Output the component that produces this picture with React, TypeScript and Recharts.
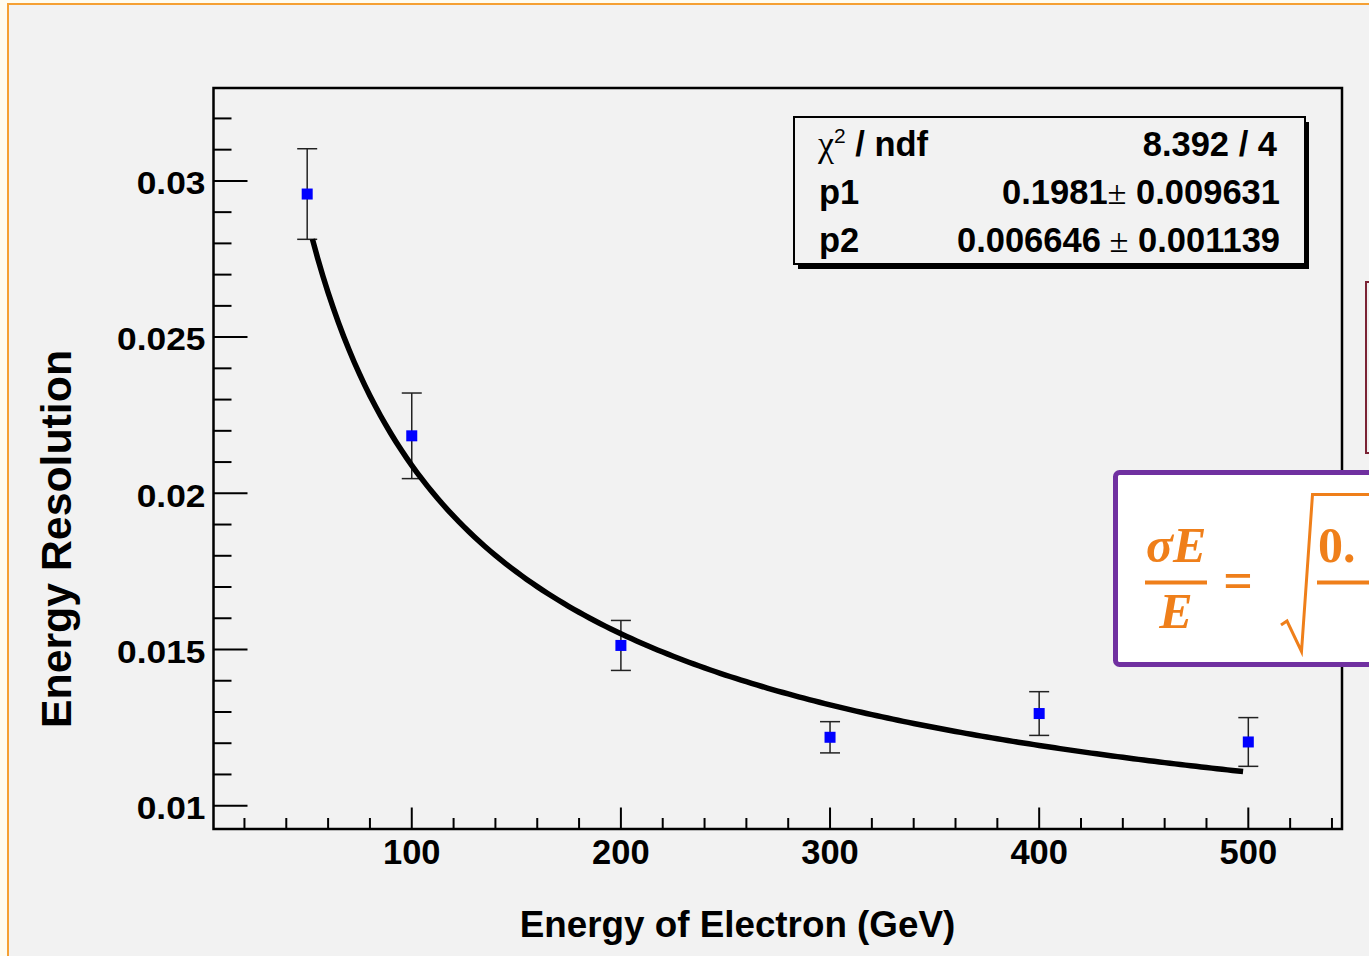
import React from 'react';
import {
  ComposedChart,
  XAxis,
  YAxis,
  Scatter,
  Line,
  ErrorBar,
  ReferenceLine,
  ReferenceArea,
} from 'recharts';

// Measured energy resolution for each beam energy (GeV)
const ENERGY = [50, 100, 200, 300, 400, 500];
const RESOLUTION = [0.02958, 0.02184, 0.01513, 0.01219, 0.01295, 0.01204];
const RES_ERROR = [0.00145, 0.00137, 0.0008, 0.0005, 0.0007, 0.00078];

// Fit parameters: sigma/E = sqrt(p1^2 / E + p2^2)
const FIT_P1 = 0.1981;
const FIT_P2 = 0.006646;
const FIT_FROM = 52.5;
const FIT_TO = 498;
const FIT_STEP = 2.5;

// Axis ticks
const X_TICKS = [100, 200, 300, 400, 500];
const X_MINOR = [20, 40, 60, 80, 120, 140, 160, 180, 220, 240, 260, 280, 320, 340, 360, 380, 420, 440, 460, 480, 520, 540];
const Y_TICKS = [0.01, 0.015, 0.02, 0.025, 0.03];
const Y_MINOR = [
  0.011, 0.012, 0.013, 0.014, 0.016, 0.017, 0.018, 0.019, 0.021, 0.022, 0.023, 0.024,
  0.026, 0.027, 0.028, 0.029, 0.031, 0.032,
];

// Stats box text
const STATS_ROWS = [
  { name: 'p1', value: '0.1981', error: '0.009631' },
  { name: 'p2', value: '0.006646', error: '0.001139' },
];
const CHI2_NDF = '8.392 / 4';

const X_MIN = 5.2;
const X_MAX = 544.8;
const Y_MIN = 0.009254;
const Y_MAX = 0.032974;

const CHART_W = 1369;
const CHART_H = 956;
const MARGIN = { top: 88, right: 27, bottom: 67, left: 13.5 };
const Y_AXIS_W = 200;
const X_AXIS_H = 60;
const PLOT_W = CHART_W - MARGIN.left - MARGIN.right - Y_AXIS_W;
const PLOT_H = CHART_H - MARGIN.top - MARGIN.bottom - X_AXIS_H;
const X_PER_PX = (X_MAX - X_MIN) / PLOT_W;
const Y_PER_PX = (Y_MAX - Y_MIN) / PLOT_H;

const SANS = '"Liberation Sans", Arial, Helvetica, sans-serif';
const SERIF = '"Liberation Serif", "Times New Roman", serif';
const ORANGE = '#ef7f1a';
const STATS_FS = 34.5;

const points = ENERGY.map((e, i) => ({ e, res: RESOLUTION[i], err: RES_ERROR[i] }));

const fitCurve: { e: number; fit: number }[] = [];
for (let e = FIT_FROM; e <= FIT_TO + 1e-9; e += FIT_STEP) {
  fitCurve.push({ e, fit: Math.sqrt((FIT_P1 * FIT_P1) / e + FIT_P2 * FIT_P2) });
}

const BlueSquare = (props: any) => {
  const { cx, cy } = props;
  if (cx == null || cy == null) return <g />;
  return <rect x={cx - 5.5} y={cy - 5.5} width={11} height={11} fill="#0000ff" />;
};

const YTick = (props: any) => {
  const { x, y, payload } = props;
  return (
    <text
      x={x}
      y={y}
      dy={13.4}
      textAnchor="end"
      fill="#000"
      fontSize={31}
      fontWeight={700}
      fontFamily={SANS}
      transform={`translate(${x} ${y}) scale(1.14 1) translate(${-x} ${-y})`}
    >
      {String(payload.value)}
    </text>
  );
};

export default function App() {
  const tickStroke = { stroke: '#000', strokeWidth: 2 };
  return (
    <div
      style={{
        position: 'absolute',
        left: 0,
        top: 0,
        width: CHART_W,
        height: CHART_H,
        overflow: 'hidden',
        background: '#fffcf0',
      }}
    >
      <div style={{ position: 'absolute', left: 9, top: 5, right: 0, bottom: 0, background: '#f2f2f2' }} />
      <div style={{ position: 'absolute', left: 0, top: 0 }}>
        <ComposedChart width={CHART_W} height={CHART_H} margin={MARGIN}>
          <XAxis
            type="number"
            dataKey="e"
            domain={[X_MIN, X_MAX]}
            ticks={X_TICKS}
            interval={0}
            allowDataOverflow
            axisLine={false}
            tickLine={false}
            tickSize={0}
            tickMargin={11}
            height={X_AXIS_H}
            tick={{ fill: '#000', fontSize: 34.5, fontWeight: 700, fontFamily: SANS }}
          />
          <YAxis
            type="number"
            domain={[Y_MIN, Y_MAX]}
            ticks={Y_TICKS}
            interval={0}
            allowDataOverflow
            axisLine={false}
            tickLine={false}
            tickSize={0}
            tickMargin={8}
            width={Y_AXIS_W}
            tick={<YTick />}
          />
          <ReferenceArea
            x1={X_MIN}
            x2={X_MAX}
            y1={Y_MIN}
            y2={Y_MAX}
            fill="none"
            fillOpacity={0}
            stroke="#000"
            strokeWidth={2.5}
            ifOverflow="visible"
          />
          {Y_TICKS.map((v) => (
            <ReferenceLine
              key={`ym${v}`}
              segment={[{ x: X_MIN, y: v }, { x: X_MIN + 34 * X_PER_PX, y: v }]}
              {...tickStroke}
            />
          ))}
          {Y_MINOR.map((v) => (
            <ReferenceLine
              key={`yn${v}`}
              segment={[{ x: X_MIN, y: v }, { x: X_MIN + 18 * X_PER_PX, y: v }]}
              {...tickStroke}
            />
          ))}
          {X_TICKS.map((v) => (
            <ReferenceLine
              key={`xm${v}`}
              segment={[{ x: v, y: Y_MIN }, { x: v, y: Y_MIN + 21.5 * Y_PER_PX }]}
              {...tickStroke}
            />
          ))}
          {X_MINOR.map((v) => (
            <ReferenceLine
              key={`xn${v}`}
              segment={[{ x: v, y: Y_MIN }, { x: v, y: Y_MIN + 11 * Y_PER_PX }]}
              {...tickStroke}
            />
          ))}
          <Scatter data={points} dataKey="res" shape={BlueSquare} isAnimationActive={false}>
            <ErrorBar dataKey="err" direction="y" width={10} stroke="#222" strokeWidth={1.5} />
          </Scatter>
          <Line
            data={fitCurve}
            dataKey="fit"
            type="linear"
            dot={false}
            activeDot={false}
            stroke="#000"
            strokeWidth={5.5}
            isAnimationActive={false}
          />
        </ComposedChart>
      </div>

      <svg
        width={CHART_W}
        height={CHART_H}
        style={{ position: 'absolute', left: 0, top: 0, pointerEvents: 'none' }}
      >
        {/* slide frame */}
        <rect x={8} y={4} width={3000} height={3000} fill="none" stroke="#f5a033" strokeWidth={2} />

        {/* axis titles */}
        <text x={737.5} y={936.7} textAnchor="middle" fontSize={36.8} fontWeight={700} fontFamily={SANS} fill="#000">
          Energy of Electron (GeV)
        </text>
        <text
          x={70.7}
          y={539}
          textAnchor="middle"
          fontSize={42.8}
          fontWeight={700}
          fontFamily={SANS}
          fill="#000"
          transform="rotate(-90 70.7 539)"
        >
          Energy Resolution
        </text>

        {/* fit statistics box */}
        <rect x={798} y={122} width={511} height={147} fill="#000" />
        <rect x={794} y={117} width={511} height={147} fill="#f2f2f2" stroke="#000" strokeWidth={2} />
        <text x={818} y={156} fontSize={STATS_FS} fontFamily={SANS} fill="#000">
          <tspan fontFamily={SERIF} fontSize={36}>χ</tspan>
          <tspan fontSize={21} dy={-13}>2</tspan>
          <tspan dy={13} fontWeight={700}> / ndf</tspan>
        </text>
        <text x={1277} y={156} textAnchor="end" fontSize={STATS_FS} fontWeight={700} fontFamily={SANS} fill="#000">
          {CHI2_NDF}
        </text>
        {STATS_ROWS.map((r, i) => (
          <g key={r.name}>
            <text x={819} y={204 + i * 48} fontSize={STATS_FS} fontWeight={700} fontFamily={SANS} fill="#000">
              {r.name}
            </text>
            <text x={1280} y={204 + i * 48} textAnchor="end" fontSize={STATS_FS} fontWeight={700} fontFamily={SANS} fill="#000">
              {r.value}
              <tspan fontWeight={400} fontFamily={SERIF}>{i === 0 ? '±' : ' ±'}</tspan>
              {' ' + r.error}
            </text>
          </g>
        ))}

        {/* side boxes of the slide */}
        <rect x={1366} y={282} width={200} height={171} fill="none" stroke="#7b2335" strokeWidth={2} />
        <rect x={1115.5} y={472.5} width={400} height={192} rx={4} fill="#fff" stroke="#7030a0" strokeWidth={5} />
        <text x={1146} y={561.7} fontSize={50} fontWeight={700} fontStyle="italic" fontFamily={SERIF} fill={ORANGE}>
          σE
        </text>
        <line x1={1145} x2={1207} y1={582.5} y2={582.5} stroke={ORANGE} strokeWidth={4} />
        <text x={1176} y={628.3} textAnchor="middle" fontSize={50} fontWeight={700} fontStyle="italic" fontFamily={SERIF} fill={ORANGE}>
          E
        </text>
        <text x={1238} y={598} textAnchor="middle" fontSize={52} fontWeight={700} fontFamily={SERIF} fill={ORANGE}>
          =
        </text>
        <path
          d="M1281 625 L1287 621 L1301.5 651.5 L1312.5 494.5 L1400 494.5"
          fill="none"
          stroke={ORANGE}
          strokeWidth={3}
        />
        <text x={1318} y={561.7} fontSize={50} fontWeight={700} fontFamily={SERIF} fill={ORANGE}>
          0.
        </text>
        <line x1={1317} x2={1400} y1={582.5} y2={582.5} stroke={ORANGE} strokeWidth={4} />
      </svg>
    </div>
  );
}
